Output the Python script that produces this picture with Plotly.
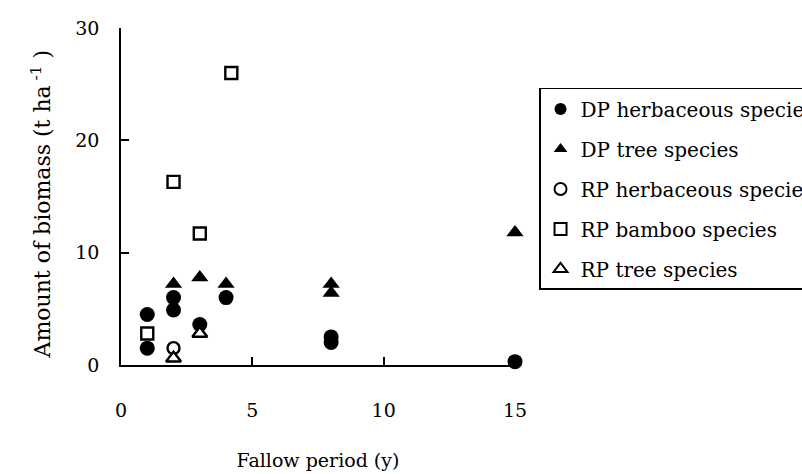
import plotly.graph_objects as go

# Data (fallow period in years, biomass t/ha)
dp_herb_x = [1, 1, 2, 2, 3, 4, 8, 8, 15]
dp_herb_y = [4.5, 1.5, 6.0, 4.9, 3.6, 6.0, 2.5, 2.0, 0.3]

dp_tree_x = [2, 3, 4, 8, 8, 15]
dp_tree_y = [7.2, 7.8, 7.2, 7.2, 6.4, 11.8]

rp_herb_x = [2]
rp_herb_y = [1.5]

rp_bamboo_x = [1, 2, 3, 4.2]
rp_bamboo_y = [2.8, 16.3, 11.7, 26.0]

rp_tree_x = [2, 3]
rp_tree_y = [0.6, 2.8]

names = ["DP herbaceous species", "DP tree species", "RP herbaceous species",
         "RP bamboo species", "RP tree species"]

FONT = "DejaVu Serif"

fig = go.Figure()

def add(x, y, name, symbol, filled, size):
    fig.add_trace(go.Scatter(
        x=x, y=y, mode="markers", name=name, legendgroup=name,
        cliponaxis=False,
        marker=dict(symbol=symbol, size=size,
                    color="black" if filled else "white",
                    line=dict(color="black", width=2.4 if not filled else 0)),
    ))

add(dp_herb_x, dp_herb_y, names[0], "circle", True, 15)
add(dp_tree_x, dp_tree_y, names[1], "triangle-up", True, 15)
add(rp_herb_x, rp_herb_y, names[2], "circle", False, 12)
add(rp_bamboo_x, rp_bamboo_y, names[3], "square", False, 12)
add(rp_tree_x, rp_tree_y, names[4], "triangle-up", False, 13)

fig.update_layout(
    width=802, height=474,
    margin=dict(l=121, r=287, t=28, b=109, autoexpand=False),
    paper_bgcolor="white", plot_bgcolor="white",
    font=dict(family=FONT, size=19, color="black"),
    showlegend=True,
    legend=dict(
        x=1.061, y=0.822, xanchor="left", yanchor="top",
        bordercolor="black", borderwidth=1.5, bgcolor="white",
        font=dict(family=FONT, size=20, color="black"),
        tracegroupgap=11, itemsizing="constant",
    ),
    xaxis=dict(
        range=[0, 15], tickvals=[0, 5, 10, 15], ticks="inside", ticklen=8,
        tickcolor="black", tickwidth=1.5,
        showline=True, linecolor="black", linewidth=1.5,
        showgrid=False, zeroline=False, ticklabelstandoff=27,
        title=dict(text="Fallow period (y)", standoff=34,
                   font=dict(family=FONT, size=19)),
        automargin=False,
    ),
    yaxis=dict(
        range=[0, 30], tickvals=[0, 10, 20, 30], ticks="inside", ticklen=8,
        tickcolor="black", tickwidth=1.5,
        showline=True, linecolor="black", linewidth=1.5,
        showgrid=False, zeroline=False, ticklabelstandoff=16,
        automargin=False,
    ),
    annotations=[dict(
        text="Amount of biomass (t ha<sup> -1</sup> )",
        xref="paper", yref="paper", x=0, y=0.5, xshift=-81, yshift=-8,
        xanchor="center", yanchor="middle", textangle=-90, showarrow=False,
        font=dict(family=FONT, size=22, color="black"),
    )],
)

fig.write_html("out.html")
